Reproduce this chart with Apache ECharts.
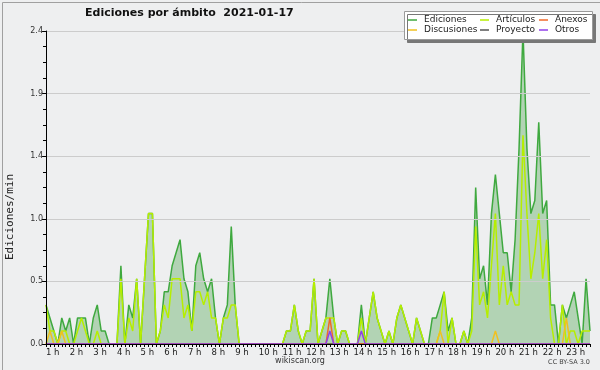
<!DOCTYPE html>
<html><head><meta charset="utf-8">
<script src="https://cdn.jsdelivr.net/npm/echarts@6/dist/echarts.min.js"></script>
<style>html,body{margin:0;padding:0;background:#eeeff0}#c{width:600px;height:370px}</style>
</head><body><div id="c"></div>
<script>
const titleText = 'Ediciones por ámbito  2021-01-17';
const yAxisTitle = 'Ediciones/min';
const hourLabels = ['1 h','2 h','3 h','4 h','5 h','6 h','7 h','8 h','9 h','10 h','11 h','12 h','13 h','14 h','15 h','16 h','17 h','18 h','19 h','20 h','21 h','22 h','23 h',''];
const yTickLabels = ['0.0','0.5','1.0','1.4','1.9','2.4'];
const seriesNames = ['Ediciones','Artículos','Anexos','Discusiones','Proyecto','Otros'];
// 10-minute slots from 01:00 to 24:00
const categories = [];
for (let h = 1; h <= 24; h++) { for (let m = 0; m < 60; m += 10) { if (h === 24 && m > 0) break; categories.push((h < 10 ? '0' : '') + h + ':' + (m === 0 ? '00' : m)); } }

const ediciones = [
0.3,0.2,0.1,0,0.2,0.1,0.2,0,0.2,0.2,0.2,0,0.2,0.3,0.1,0.1,0,0,
0,0.6,0,0.3,0.2,0.5,0,0.5,1.0,1.0,0,0.1,0.4,0.4,0.6,0.7,0.8,0.5,
0.4,0.1,0.6,0.7,0.5,0.4,0.5,0.2,0,0.2,0.3,0.9,0.3,0,0,0,0,0,
0,0,0,0,0,0,0,0.1,0.1,0.3,0.1,0,0.1,0.1,0.5,0,0.1,0.2,
0.5,0.2,0,0.1,0.1,0,0,0,0.3,0,0.2,0.4,0.2,0.1,0,0.1,0,0.2,
0.3,0.2,0.1,0,0.2,0.1,0,0,0.2,0.2,0.3,0.4,0.1,0.2,0,0,0.1,0,
0.2,1.2,0.5,0.6,0.3,1.0,1.3,1.0,0.7,0.7,0.4,0.8,1.5,2.4,1.5,1.0,1.1,1.7,
1.0,1.1,0.3,0.3,0,0.3,0.2,0.3,0.4,0.2,0,0.5,0.1];
const articulos = [
0.3,0.1,0.1,0,0.1,0.1,0,0,0.1,0.2,0.1,0,0,0.1,0,0,0,0,
0,0.5,0,0.2,0.1,0.5,0,0.5,1.0,1.0,0,0.1,0.3,0.2,0.5,0.5,0.5,0.2,
0.3,0.1,0.4,0.4,0.3,0.4,0.2,0.2,0,0.2,0.2,0.3,0.3,0,0,0,0,0,
0,0,0,0,0,0,0,0.1,0.1,0.3,0.1,0,0.1,0.1,0.5,0,0.1,0.2,
0.2,0.2,0,0.1,0.1,0,0,0,0.2,0,0.2,0.4,0.2,0.1,0,0.1,0,0.2,
0.3,0.2,0.1,0,0.2,0.1,0,0,0,0,0.1,0.4,0,0.2,0,0,0.1,0,
0.1,0.9,0.3,0.4,0.2,0.6,1.0,0.3,0.6,0.3,0.4,0.3,0.3,1.6,1.0,0.5,0.7,1.0,
0.5,0.8,0.2,0,0,0.3,0,0.1,0.1,0,0.1,0.1,0.1];
const discusiones = [
0,0.1,0,0,0.1,0,0,0,0,0,0,0,0,0,0,0,0,0,
0,0,0,0,0,0,0,0,0,0,0,0,0,0,0,0,0,0,
0,0,0,0,0,0,0,0,0,0,0,0,0,0,0,0,0,0,
0,0,0,0,0,0,0,0,0,0,0,0,0,0,0,0,0,0,
0,0,0,0,0,0,0,0,0,0,0,0,0,0,0,0,0,0,
0,0,0,0,0,0,0,0,0,0,0.1,0,0,0,0,0,0,0,
0,0,0,0,0,0,0.1,0,0,0,0,0,0,0,0,0,0,0,
0,0,0,0,0,0,0.2,0,0,0,0,0,0];
const anexos = [
0,0,0,0,0,0,0,0,0,0,0,0,0,0,0,0,0,0,
0,0,0,0,0,0,0,0,0,0,0,0,0,0,0,0,0,0,
0,0,0,0,0,0,0,0,0,0,0,0,0,0,0,0,0,0,
0,0,0,0,0,0,0,0,0,0,0,0,0,0,0,0,0,0,
0.2,0,0,0,0,0,0,0,0,0,0,0,0,0,0,0,0,0,
0,0,0,0,0,0,0,0,0,0,0,0,0,0,0,0,0,0,
0,0,0,0,0,0,0,0,0,0,0,0,0,0,0,0,0,0,
0,0,0,0,0,0,0,0,0,0,0,0,0];
const proyecto = [
0,0,0,0,0,0,0,0,0,0,0,0,0,0,0,0,0,0,
0,0,0,0,0,0,0,0,0,0,0,0,0,0,0,0,0,0,
0,0,0,0,0,0,0,0,0,0,0,0,0,0,0,0,0,0,
0,0,0,0,0,0,0,0,0,0,0,0,0,0,0,0,0,0,
0,0,0,0,0,0,0,0,0,0,0,0,0,0,0,0,0,0,
0,0,0,0,0,0,0,0,0,0,0,0,0,0,0,0,0,0,
0,0,0,0,0,0,0,0,0,0,0,0,0,0,0,0,0,0,
0,0,0,0,0,0,0,0,0,0,0,0,0];
const otros = [
0,0,0,0,0,0,0,0,0,0,0,0,0,0,0,0,0,0,
0,0,0,0,0,0,0,0,0,0,0,0,0,0,0,0,0,0,
0,0,0,0,0,0,0,0,0,0,0,0,0,0,0,0,0,0,
0,0,0,0,0,0,0,0,0,0,0,0,0,0,0,0,0,0,
0.1,0,0,0,0,0,0,0,0.1,0,0,0,0,0,0,0,0,0,
0,0,0,0,0,0,0,0,0,0,0,0,0,0,0,0,0,0,
0,0,0,0,0,0,0,0,0,0,0,0,0,0,0,0,0,0,
0,0,0,0,0,0,0,0,0,0,0,0,0];

const colors = {Ediciones:'#3fa93f', 'Artículos':'#b6ee00', Anexos:'#f06a2a', Discusiones:'#f0c020', Proyecto:'#555555', Otros:'#9040e8'};
const values = {Ediciones:ediciones, 'Artículos':articulos, Anexos:anexos, Discusiones:discusiones, Proyecto:proyecto, Otros:otros};
const drawOrder = ['Ediciones','Artículos','Discusiones','Proyecto','Anexos','Otros'];

const chart = echarts.init(document.getElementById('c'), null, {renderer:'canvas'});
const legendText = {fontFamily:'DejaVu Sans', fontSize:9, color:'#222', lineHeight:10, padding:[0,0,0,2]};
function mkLegend(names, left) {
  return {data:names, orient:'vertical', left:left, top:15, padding:0, itemWidth:9, itemHeight:1.5, itemGap:0,
    icon:'rect', textStyle:legendText, z:30, selectedMode:false};
}
chart.setOption({
  animation:false,
  backgroundColor:'#eeeff0',
  title:{text:titleText, left:85, top:8, padding:0, textStyle:{fontFamily:'DejaVu Sans', fontWeight:'bold', fontSize:11, color:'#111'}},
  legend:[mkLegend([seriesNames[0],seriesNames[3]],408), mkLegend([seriesNames[1],seriesNames[4]],480), mkLegend([seriesNames[2],seriesNames[5]],539)],
  grid:{left:46, right:10, top:31, bottom:26, outerBoundsMode:'none', containLabel:false},
  xAxis:{type:'category', boundaryGap:false, data:categories, z:10,
    axisLine:{lineStyle:{color:'#000', width:1}},
    axisTick:{show:true, interval:0, length:3, lineStyle:{color:'#000'}},
    axisLabel:{interval:5, align:'left', margin:4, fontFamily:'DejaVu Sans', fontSize:8.5, color:'#222',
      formatter:function(v, idx){ return hourLabels[Math.round(idx/6)] || ''; }},
    splitLine:{show:false}},
  yAxis:{type:'value', min:0, max:2.4, interval:0.48, z:10,
    axisLine:{show:true, lineStyle:{color:'#000'}},
    axisTick:{show:true, length:4, lineStyle:{color:'#000'}},
    minorTick:{show:true, splitNumber:4, length:3, lineStyle:{color:'#000'}},
    splitLine:{show:true, lineStyle:{color:'#cccccc', width:1}},
    axisLabel:{margin:3, fontFamily:'DejaVu Sans', fontSize:8, color:'#333',
      formatter:function(v){ return yTickLabels[Math.round(v/0.48)]; }}},
  graphic:[
    {type:'rect', left:404, top:11, shape:{width:188, height:28}, z:20,
      style:{fill:'#ffffff', stroke:'#9a9a9a', lineWidth:1, shadowColor:'#777', shadowOffsetX:3, shadowOffsetY:3, shadowBlur:0}},
    {type:'text', x:10, y:217, rotation:Math.PI/2, z:20,
      style:{text:yAxisTitle, fontFamily:'DejaVu Sans Mono', fontSize:11, fill:'#222', align:'center', verticalAlign:'middle'}},
    {type:'text', left:'center', top:357, style:{text:'wikiscan.org', fontFamily:'DejaVu Sans', fontSize:8, fill:'#333'}},
    {type:'text', right:10, top:359, style:{text:'CC BY-SA 3.0', fontFamily:'DejaVu Sans', fontSize:6.5, fill:'#444'}},
    {type:'rect', left:0, top:0, shape:{width:599, height:369}, z:50, silent:true, style:{fill:'none', stroke:'#a0a0a0', lineWidth:1}}
  ],
  series: drawOrder.map(function(n){
    const s = {name:n, type:'line', data:values[n], symbol:'none', smooth:false,
      lineStyle:{color:colors[n], width:1.5}, itemStyle:{color:colors[n]}, z:2};
    if (n === 'Ediciones') s.areaStyle = {color:'rgba(50,150,50,0.45)', origin:'start'};
    return s;
  })
});
</script></body></html>
